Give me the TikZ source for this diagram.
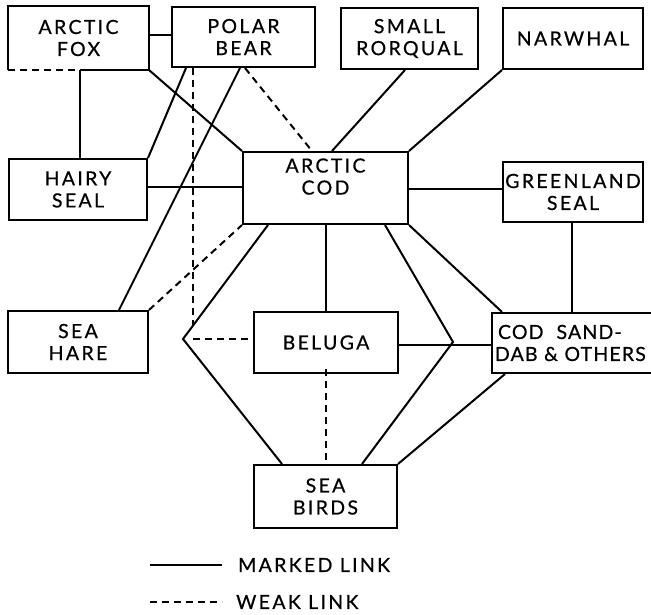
\documentclass[tikz,border=0pt]{standalone}
\usepackage{fontspec}
\setmainfont[LetterSpace=12,FakeBold=0.6]{Lato}
\usetikzlibrary{calc}
\begin{document}
\begin{tikzpicture}[x=1pt,y=-1pt,
  lw/.style={line width=2pt},
  box/.style={lw,draw,rectangle,inner sep=0pt,align=center,font=\fontsize{19.5}{22}\selectfont},
  weak/.style={lw,dash pattern=on 7pt off 5pt},
  marked/.style={lw},
  lbl/.style={inner sep=0pt,anchor=west,font=\fontsize{19.5}{22}\selectfont}]
\useasboundingbox (0,0) rectangle (651,615);
% nodes
\node[box,draw=none,minimum width=139pt,minimum height=62pt] (fox) at (78.5,38) {ARCTIC\\FOX};
\node[box,minimum width=143pt,minimum height=60pt] (bear) at (243.5,37) {POLAR\\BEAR};
\node[box,minimum width=137pt,minimum height=61pt] (rorq) at (409.5,38.5) {SMALL\\RORQUAL};
\node[box,minimum width=140pt,minimum height=61pt] (narw) at (573,38.5) {NARWHAL};
\node[box,minimum width=138pt,minimum height=61pt] (hairy) at (78,189.5) {HAIRY\\SEAL};
\node[box,minimum width=165pt,minimum height=72pt] (cod) at (325.5,188) {ARCTIC\\COD\\[1pt]};
\node[box,minimum width=140pt,minimum height=60pt] (green) at (573,192) {GREENLAND\\SEAL};
\node[box,minimum width=140pt,minimum height=62pt] (hare) at (78,342) {SEA\\HARE};
\node[box,minimum width=144pt,minimum height=61pt] (beluga) at (326,342.5) {BELUGA};
\node[box,minimum width=168pt,minimum height=60pt,text width=162pt,align=left,
  font=\fontsize{19.5}{22}\selectfont\addfontfeature{LetterSpace=6}] (sand) at (576,343) {\hspace{3pt}COD~~SAND-\\DAB \& OTHERS};
\node[box,minimum width=143pt,minimum height=63pt] (birds) at (325.5,496.5) {SEA\\BIRDS};
% fox outline with partly dashed bottom
\draw[lw] ([xshift=1.5pt]fox.south) -- (fox.south east) -- (fox.north east) -- (fox.north west) -- (fox.south west);
\draw[weak] (fox.south west) -- ([xshift=1.5pt]fox.south);
% junction coordinates
\coordinate (jL) at (183,339);
\coordinate (jR) at (453,342);
\coordinate (dv) at (193,326);
% marked links
\draw[marked] ([yshift=3pt]fox.east) -- ([yshift=3pt]fox.east -| bear.west);
\draw[marked] ([xshift=1.5pt]fox.south) -- ([xshift=1.5pt]fox.south |- hairy.north);
\draw[marked] (fox.south east) -- (cod.north west);
\draw[marked] ([xshift=-57.5pt]bear.south) -- (hairy.north east);
\draw[marked] ([xshift=-3.5pt]bear.south) -- ([xshift=41pt]hare.north);
\draw[marked] ([yshift=2.5pt]hairy.east) -- ([yshift=2.5pt]hairy.east -| cod.west);
\draw[marked] ([xshift=-4.5pt]rorq.south) -- ([xshift=6.5pt]cod.north);
\draw[marked] (narw.south west) -- (cod.north east);
\draw[marked] ([yshift=-1pt]cod.east) -- ([yshift=-1pt]cod.east -| green.west);
\draw[marked] ([xshift=-1pt]green.south) -- ([xshift=-1pt]green.south |- sand.north);
\draw[marked] (cod.south east) -- ([xshift=-74pt]sand.north);
\draw[marked] (cod.south) -- (cod.south |- beluga.north);
\draw[marked] ([xshift=59.5pt]cod.south) -- (jR) -- ([xshift=36.5pt]birds.north);
\draw[marked] ([xshift=-57.5pt]cod.south) -- (jL) -- ([xshift=-43.5pt]birds.north);
\draw[marked] ([yshift=-2.5pt]beluga.east) -- ([yshift=-2.5pt]beluga.east -| sand.west);
\draw[marked] ([xshift=-71pt]sand.south) -- (birds.north east);
% weak links
\draw[weak] ([xshift=1.5pt]bear.south) -- ([xshift=-13.5pt]cod.north);
\draw[weak] ([xshift=-50.5pt]bear.south) -- (dv);
\draw[weak] ([xshift=10pt]jL) -- (jL -| beluga.west);
\draw[weak] (hare.north east) -- (cod.south west);
\draw[weak] ([yshift=5pt]beluga.south) -- (beluga.south |- birds.north);
% legend
\coordinate (la) at (150,565);
\coordinate (lb) at (150,602);
\node[lbl] (mark) at (238,565) {MARKED LINK};
\node[lbl] (weaklbl) at (236,602) {WEAK LINK};
\draw[marked] (la) -- ([xshift=-16pt]mark.west);
\draw[weak] (lb) -- ([xshift=-14pt]weaklbl.west);
\end{tikzpicture}
\end{document}
